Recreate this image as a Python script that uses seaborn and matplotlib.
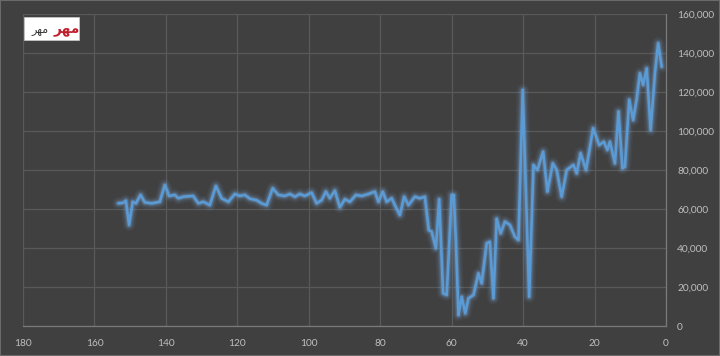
import matplotlib
matplotlib.use("Agg")
import matplotlib.pyplot as plt
import seaborn as sns
import pandas as pd
from matplotlib.ticker import FuncFormatter
from matplotlib.patches import Rectangle

# ---- data (x = days, y = value) ----
days = [153.3, 151.9, 151.2, 150.3, 149.3, 148.4, 147.1, 145.9, 144.0, 141.7,
        140.3, 139.1, 137.5, 136.5, 135.1, 132.4, 130.9, 129.5, 127.7, 126.0,
        124.4, 122.5, 120.7, 119.3, 117.9, 116.5, 114.6, 113.2, 111.8, 110.1,
        108.5, 106.7, 105.3, 103.9, 102.5, 101.1, 99.2, 97.8, 96.4, 95.2,
        94.1, 92.7, 91.3, 89.9, 88.5, 86.8, 85.2, 83.3, 81.5, 80.5,
        79.3, 78.2, 76.8, 75.9, 74.5, 73.3, 72.1, 70.3, 68.9, 67.5,
        66.4, 65.6, 64.4, 63.5, 62.4, 61.4, 60.0, 59.4, 58.8, 58.1,
        57.2, 56.2, 55.3, 53.9, 52.5, 51.6, 50.2, 49.3, 48.3, 47.4,
        46.3, 45.1, 43.7, 42.3, 41.3, 40.1, 38.3, 37.1, 36.0, 34.4,
        33.2, 31.7, 30.6, 29.2, 27.8, 25.9, 25.0, 23.9, 22.4, 20.4,
        18.7, 17.4, 16.4, 15.7, 14.3, 13.3, 12.2, 11.5, 10.3, 9.2,
        8.2, 7.3, 6.4, 5.4, 4.3, 3.1, 2.2, 1.2]
values = [62900, 63200, 64300, 51800, 63700, 62900, 67200, 63400, 62900, 63700,
          72300, 66700, 67200, 65500, 66300, 66700, 62900, 63700, 62000, 71800,
          65500, 63700, 67700, 66700, 67200, 65300, 64500, 62900, 62000, 70600,
          67200, 66700, 67700, 66300, 67700, 66700, 68400, 62900, 64600, 68900,
          65500, 69400, 60900, 65000, 63700, 67200, 66700, 67700, 68900, 63700,
          68900, 63700, 65500, 62000, 56900, 66300, 62000, 66300, 65500, 66300,
          49200, 48400, 39800, 65000, 16800, 15900, 67200, 67200, 42400, 5600,
          15000, 6500, 14200, 15900, 27000, 21900, 42400, 43200, 14200, 55000,
          47500, 53500, 51800, 45800, 44100, 121000, 15000, 82600, 80000, 89400,
          68900, 83400, 80000, 66300, 80000, 82600, 78300, 88600, 80000, 101400,
          92800, 94500, 90300, 94500, 83400, 110000, 80900, 81700, 116000, 105600,
          116500, 129600, 123600, 132100, 100500, 129600, 145000, 133000]
x_ticks = [180, 160, 140, 120, 100, 80, 60, 40, 20, 0]
y_ticks = [0, 20000, 40000, 60000, 80000, 100000, 120000, 140000, 160000]

df = pd.DataFrame({"day": days, "value": values})

BG = "#404040"
GRID = "#595959"
TXT = "#bfbfbf"
LINE = "#5b9bd5"

sns.set_style("dark", {"axes.facecolor": BG, "figure.facecolor": BG})
plt.rcParams["font.family"] = ["Lato", "DejaVu Sans"]

fig = plt.figure(figsize=(7.2, 3.56), dpi=100)
fig.patch.set_facecolor(BG)
ax = fig.add_axes([23 / 720, 30 / 356, 643 / 720, 312 / 356])
ax.set_facecolor(BG)

# glow
for lw, a in [(9, 0.05), (7, 0.08), (5, 0.13), (3.4, 0.22)]:
    sns.lineplot(data=df, x="day", y="value", ax=ax, color="#7fb4ea",
                 linewidth=lw, alpha=a, sort=False, estimator=None,
                 solid_capstyle="round", solid_joinstyle="round")
sns.lineplot(data=df, x="day", y="value", ax=ax, color=LINE, linewidth=1.9,
             sort=False, estimator=None, solid_capstyle="round",
             solid_joinstyle="round")

ax.set_xlim(180, 0)
ax.set_ylim(0, 160000)
ax.set_xticks(x_ticks)
ax.set_yticks(y_ticks)
ax.yaxis.set_major_formatter(FuncFormatter(lambda v, p: f"{int(v):,}"))
ax.yaxis.tick_right()
ax.grid(True, color=GRID, linewidth=0.9)
ax.tick_params(axis="both", length=0, colors=TXT, labelsize=7.3)
ax.tick_params(axis="y", pad=8)
ax.tick_params(axis="x", pad=9)
ax.set_xlabel("")
ax.set_ylabel("")
for s in ["top", "left"]:
    ax.spines[s].set_visible(False)
for s in ["bottom", "right"]:
    ax.spines[s].set_visible(True)
    ax.spines[s].set_color("#7a7a7a")
    ax.spines[s].set_linewidth(0.9)

# logo
logo = Rectangle((24 / 720, 1 - 40 / 356), 55 / 720, 23 / 356,
                 transform=fig.transFigure, facecolor="white",
                 edgecolor="#cccccc", linewidth=0.5, zorder=5)
fig.patches.append(logo)
fig.text(67 / 720, 1 - 28.5 / 356, "\ufeae\ufeec\ufee3", color="#c0202e",
         fontsize=10, fontweight="bold", ha="center", va="center",
         family=["DejaVu Sans"], zorder=6)
fig.text(40 / 720, 1 - 31 / 356, "\ufeae\ufeec\ufee3", color="#333333",
         fontsize=8, ha="center", va="center", family=["DejaVu Sans"],
         zorder=6)

# outer frame
frame = Rectangle((0, 0), 1, 1, transform=fig.transFigure, fill=False,
                  edgecolor="#6a6a6a", linewidth=1.5, zorder=10)
fig.patches.append(frame)

fig.savefig("out.png", dpi=100, facecolor=BG)
